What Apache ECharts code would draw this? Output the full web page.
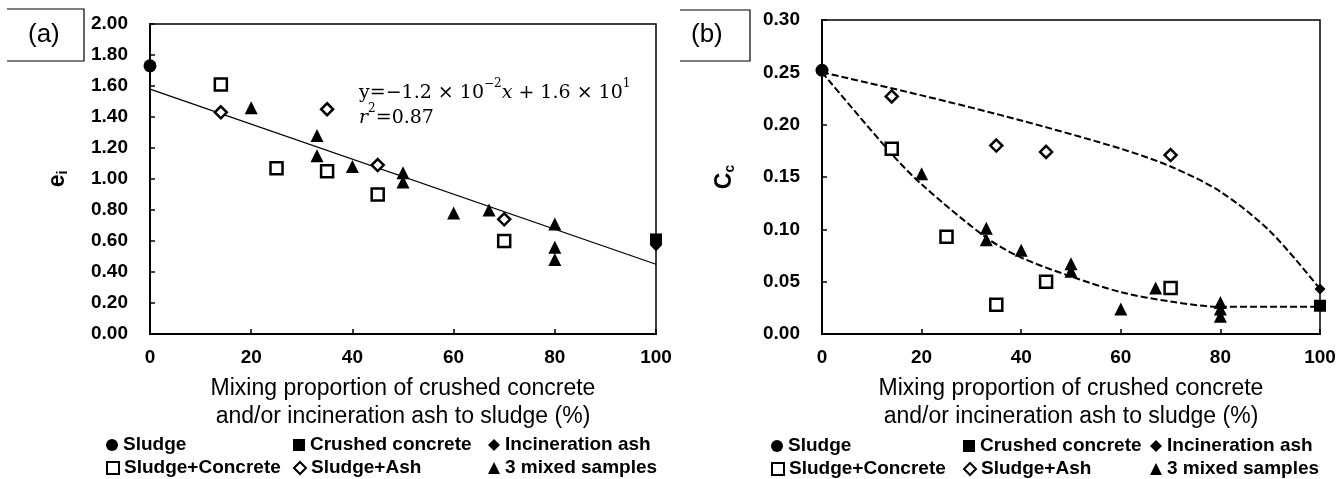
<!DOCTYPE html>
<html>
<head>
<meta charset="utf-8">
<script src="https://cdn.jsdelivr.net/npm/echarts@6/dist/echarts.min.js"></script>
<style>
  html, body { margin: 0; padding: 0; background: #fff; }
  #main { width: 1344px; height: 479px; }
</style>
</head>
<body>
<div id="main"></div>
<script>
// legend order / names
const seriesNames = ['Sludge', 'Crushed concrete', 'Incineration ash', 'Sludge+Concrete', 'Sludge+Ash', '3 mixed samples'];

// panel (a): initial void ratio e_i
const sludgeA = [[0, 1.73]];
const concreteA = [[100, 0.61]];
const ashA = [[100, 0.57]];
const sludgeConcreteA = [[14, 1.61], [25, 1.07], [35, 1.05], [45, 0.90], [70, 0.60]];
const sludgeAshA = [[14, 1.43], [35, 1.45], [45, 1.09], [70, 0.74]];
const mixedA = [[20, 1.46], [33, 1.28], [33, 1.15], [40, 1.08], [50, 1.04], [50, 0.98],
  [60, 0.78], [67, 0.80], [80, 0.71], [80, 0.56], [80, 0.48]];
const fitA = [[0, 1.58], [100, 0.45]];

// panel (b): compression index Cc
const sludgeB = [[0, 0.252]];
const concreteB = [[100, 0.027]];
const ashB = [[100, 0.043]];
const sludgeConcreteB = [[14, 0.177], [25, 0.093], [35, 0.028], [45, 0.050], [70, 0.044]];
const sludgeAshB = [[14, 0.227], [35, 0.180], [45, 0.174], [70, 0.171]];
const mixedB = [[20, 0.153], [33, 0.101], [33, 0.090], [40, 0.080], [50, 0.067], [50, 0.060],
  [60, 0.024], [67, 0.044], [80, 0.030], [80, 0.024], [80, 0.017]];
const upperCurveB = [[0, 0.250], [20, 0.228], [40, 0.204], [60, 0.177], [70, 0.160],
  [80, 0.136], [90, 0.098], [100, 0.043]];
const lowerCurveB = [[0, 0.250], [14, 0.172], [20, 0.143], [33, 0.092], [40, 0.073],
  [50, 0.055], [60, 0.040], [70, 0.031], [80, 0.026], [90, 0.026], [100, 0.026]];

const FONT = '"Liberation Sans", Arial, sans-serif';

const markers = {
  'Sludge': { symbol: 'circle', size: 13, open: false },
  'Crushed concrete': { symbol: 'rect', size: 12, open: false },
  'Incineration ash': { symbol: 'diamond', size: 11, open: false },
  'Sludge+Concrete': { symbol: 'rect', size: 12, open: true },
  'Sludge+Ash': { symbol: 'diamond', size: 12, open: true },
  '3 mixed samples': { symbol: 'triangle', size: 13, open: false },
};

function scatter(name, data, idx) {
  const m = markers[name];
  return {
    name,
    type: 'scatter',
    xAxisIndex: idx,
    yAxisIndex: idx,
    symbol: m.symbol,
    symbolSize: m.size,
    itemStyle: m.open
      ? { color: '#fff', borderColor: '#000', borderWidth: 2.5, opacity: 1 }
      : { color: '#000', borderColor: '#000', borderWidth: 0, opacity: 1 },
    data,
    z: 3,
  };
}

function curve(data, idx, dashed) {
  return {
    type: 'line',
    xAxisIndex: idx,
    yAxisIndex: idx,
    data,
    showSymbol: false,
    symbol: 'none',
    smooth: dashed ? 0.3 : false,
    lineStyle: dashed
      ? { color: '#000', width: 2, type: [7, 3] }
      : { color: '#000', width: 1.2 },
    silent: true,
    z: 2,
  };
}

function xAxis(idx) {
  return {
    gridIndex: idx,
    type: 'value',
    min: 0,
    max: 100,
    interval: 20,
    name: 'Mixing proportion of crushed concrete\nand/or incineration ash to sludge (%)',
    nameLocation: 'middle',
    nameGap: 41,
    nameTextStyle: { fontFamily: FONT, fontSize: 23, lineHeight: 28, color: '#000' },
    axisLine: { lineStyle: { color: '#000', width: 2 } },
    axisTick: { inside: true, length: 5, lineStyle: { color: '#000', width: 1.5 } },
    axisLabel: { fontFamily: FONT, fontSize: 19, fontWeight: 'bold', color: '#000', margin: 14 },
    splitLine: { show: false },
  };
}

function yAxis(idx, max, interval, nameTxt, sub, gap) {
  return {
    gridIndex: idx,
    type: 'value',
    min: 0,
    max,
    interval,
    name: '{m|' + nameTxt + '}{s|' + sub + '}',
    nameLocation: 'middle',
    nameRotate: 90,
    nameGap: gap,
    nameTextStyle: {
      rich: {
        m: { fontFamily: FONT, fontSize: 23, fontWeight: 'bold', color: '#000', lineHeight: 24 },
        s: { fontFamily: FONT, fontSize: 14, fontWeight: 'bold', color: '#000', lineHeight: 14, verticalAlign: 'bottom' },
      },
    },
    axisLine: { onZero: false, lineStyle: { color: '#000', width: 2 } },
    axisTick: { inside: true, length: 5, lineStyle: { color: '#000', width: 1.5 } },
    axisLabel: {
      fontFamily: FONT, fontSize: 19, fontWeight: 'bold', color: '#000', margin: 22,
      formatter: (v) => v.toFixed(2),
    },
    splitLine: { show: false },
  };
}

// legend: one component per entry so each can sit where the original put it
const legendCols = [[106, 293, 488], [771, 963, 1150]];
const legendRows = [[445, 468], [446, 469]];
const legends = [];
for (let p = 0; p < 2; p++) {
  seriesNames.forEach((name, i) => {
    legends.push({
      data: [name],
      left: legendCols[p][i % 3],
      top: legendRows[p][Math.floor(i / 3)] - 10,
      padding: 0,
      itemWidth: 12,
      itemHeight: 12,
      itemGap: 0,
      selectedMode: false,
      textStyle: { fontFamily: FONT, fontSize: 19, fontWeight: 'bold', color: '#000', lineHeight: 20 },
    });
  });
}

const chart = echarts.init(document.getElementById('main'), null, { renderer: 'canvas' });

chart.setOption({
  backgroundColor: '#fff',
  animation: false,
  grid: [
    { left: 150, top: 24, width: 506, height: 310, show: true, borderColor: '#000', borderWidth: 1.5, backgroundColor: 'transparent' },
    { left: 822, top: 20, width: 498, height: 314, show: true, borderColor: '#000', borderWidth: 1.5, backgroundColor: 'transparent' },
  ],
  xAxis: [xAxis(0), xAxis(1)],
  yAxis: [
    yAxis(0, 2, 0.2, 'e', 'i', 80),
    yAxis(1, 0.3, 0.05, 'C', 'c', 85),
  ],
  legend: legends,
  graphic: [
    // panel labels
    { type: 'polyline', shape: { points: [[7, 9], [84, 9], [84, 61], [7, 61]] }, style: { stroke: '#000', lineWidth: 1.2, fill: null } },
    { type: 'text', left: 28, top: 22, style: { text: '(a)', font: '26px "Liberation Sans", Arial, sans-serif', fill: '#000' } },
    { type: 'polyline', shape: { points: [[680, 10], [750, 10], [750, 61], [680, 61]] }, style: { stroke: '#000', lineWidth: 1.2, fill: null } },
    { type: 'text', left: 691, top: 22, style: { text: '(b)', font: '26px "Liberation Sans", Arial, sans-serif', fill: '#000' } },
    // regression equation
    {
      type: 'text', left: 359, top: 78,
      style: {
        text: '{n|y=−1.2 × 10}{p|−2}{i|x}{n| + 1.6 × 10}{p|1}\n{i|r}{p|2}{n|=0.87}',
        rich: {
          n: { fontFamily: '"DejaVu Serif", serif', fontSize: 19, fill: '#000', lineHeight: 25, verticalAlign: 'bottom' },
          i: { fontFamily: '"DejaVu Serif", serif', fontStyle: 'italic', fontSize: 19, fill: '#000', lineHeight: 25, verticalAlign: 'bottom' },
          p: { fontFamily: '"DejaVu Serif", serif', fontSize: 12, fill: '#000', lineHeight: 25, verticalAlign: 'top' },
        },
      },
    },
  ],
  series: [
    curve(fitA, 0, false),
    scatter('Sludge', sludgeA, 0),
    scatter('Crushed concrete', concreteA, 0),
    scatter('Incineration ash', ashA, 0),
    scatter('Sludge+Concrete', sludgeConcreteA, 0),
    scatter('Sludge+Ash', sludgeAshA, 0),
    scatter('3 mixed samples', mixedA, 0),
    curve(upperCurveB, 1, true),
    curve(lowerCurveB, 1, true),
    scatter('Sludge', sludgeB, 1),
    scatter('Crushed concrete', concreteB, 1),
    scatter('Incineration ash', ashB, 1),
    scatter('Sludge+Concrete', sludgeConcreteB, 1),
    scatter('Sludge+Ash', sludgeAshB, 1),
    scatter('3 mixed samples', mixedB, 1),
  ],
});
</script>
</body>
</html>
